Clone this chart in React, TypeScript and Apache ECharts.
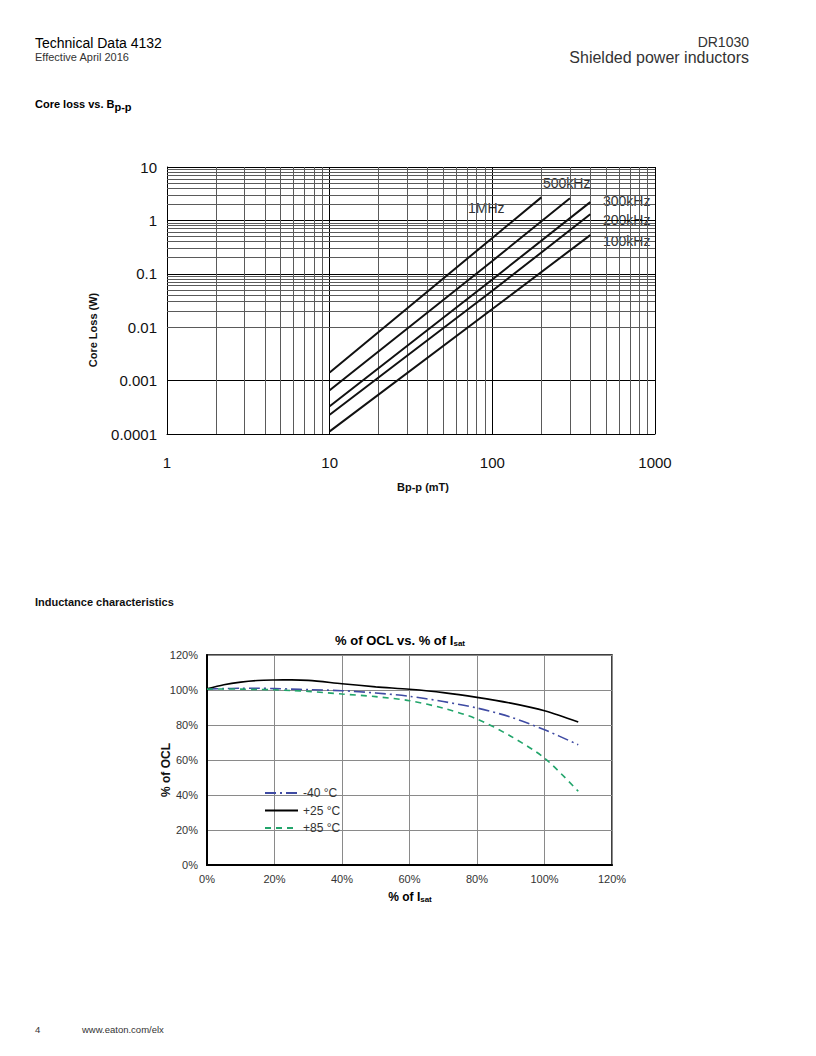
import React, { useEffect, useRef } from "react";
import * as echarts from "echarts";

// ---------- Core loss vs Bp-p data ----------
const coreLossSeriesNames = ["1MHz", "500kHz", "300kHz", "200kHz", "100kHz"];
const bpp1MHz = [10, 100, 200];
const loss1MHz = [0.00142, 0.47, 2.7];
const bpp500k = [10, 100, 300];
const loss500k = [0.00066, 0.174, 2.6];
const bpp300k = [10, 100, 400];
const loss300k = [0.00033, 0.0785, 2.2];
const bpp200k = [10, 100, 400];
const loss200k = [0.00023, 0.048, 1.3];
const bpp100k = [10, 100, 400];
const loss100k = [0.000112, 0.0219, 0.53];

const coreXTickLabels = ["1", "10", "100", "1000"];
const coreYTickLabels = ["0.0001", "0.001", "0.01", "0.1", "1", "10"];
const coreXDecades = [1, 10, 100];
const coreYDecades = [0.0001, 0.001, 0.01, 0.1, 1];
const minorMultipliers = [2, 3, 4, 5, 6, 7, 8, 9];

// ---------- Inductance characteristics data ----------
const isatPercent = [0, 5, 10, 15, 20, 25, 30, 40, 50, 60, 70, 80, 90, 100, 110];
const oclMinus40 = [100.5, 100.8, 101, 101, 100.8, 100.5, 100.2, 99.6, 98.3, 96.4, 93.4, 89.7, 84.5, 77.3, 68.7];
const ocl25 = [100.7, 103, 104.5, 105.4, 105.7, 105.8, 105.5, 103.6, 101.8, 100.4, 98.5, 95.8, 92.5, 88.2, 81.7];
const ocl85 = [100.5, 100.6, 100.5, 100.3, 100.1, 99.7, 99.2, 97.7, 96.2, 93.9, 89.6, 83.4, 73.6, 61.1, 42.1];
const tempNames = ["-40 °C", "+25 °C", "+85 °C"];
const pctTickLabels = ["0%", "20%", "40%", "60%", "80%", "100%", "120%"];

const FONT = "'Liberation Sans', Arial, Helvetica, sans-serif";

function pairs(xs: number[], ys: number[]) {
  return xs.map((x, i) => [x, ys[i]]);
}

function labelFor(v: number, labels: string[]) {
  const exact = labels.find((l) => Number(l) === v);
  return exact !== undefined ? exact : String(v);
}

export default function App() {
  const ref = useRef<HTMLDivElement>(null);

  useEffect(() => {
    if (!ref.current) return;
    const chart = echarts.init(ref.current, undefined, { renderer: "svg" });

    const minorX: any[] = [];
    coreXDecades.forEach((d) => minorMultipliers.forEach((k) => minorX.push({ xAxis: k * d })));
    const minorY: any[] = [];
    coreYDecades.forEach((d) =>
      minorMultipliers.forEach((k) => minorY.push({ yAxis: parseFloat((k * d).toPrecision(3)) }))
    );

    const coreData = [
      pairs(bpp1MHz, loss1MHz),
      pairs(bpp500k, loss500k),
      pairs(bpp300k, loss300k),
      pairs(bpp200k, loss200k),
      pairs(bpp100k, loss100k),
    ];

    const tempData = [oclMinus40, ocl25, ocl85].map((ys) => pairs(isatPercent, ys));

    const text = (x: number, y: number, t: string, font: string, fill = "#222", align = "left", extra: any = {}) => ({
      type: "text",
      x,
      y,
      silent: true,
      ...extra,
      style: { text: t, font, fill, align, verticalAlign: "middle" },
    });

    const option: any = {
      animation: false,
      backgroundColor: "#ffffff",
      textStyle: { fontFamily: FONT },
      grid: [
        { left: 167, top: 167, width: 488, height: 267, show: false },
        { left: 207, top: 655, width: 405, height: 210, show: true, borderColor: "#000", borderWidth: 1.5 },
      ],
      xAxis: [
        {
          type: "log",
          logBase: 10,
          gridIndex: 0,
          min: 1,
          max: 1000,
          axisLine: { show: true, lineStyle: { color: "#000", width: 1 } },
          axisTick: { show: false },
          axisLabel: {
            fontSize: 15,
            color: "#111",
            margin: 21,
            fontFamily: FONT,
            formatter: (v: number) => labelFor(v, coreXTickLabels),
          },
          splitLine: { show: true, lineStyle: { color: "#000", width: 1 } },
        },
        {
          type: "value",
          gridIndex: 1,
          min: 0,
          max: 120,
          interval: 20,
          axisLine: { show: true, lineStyle: { color: "#000", width: 2 } },
          axisTick: { show: false },
          axisLabel: {
            fontSize: 11,
            color: "#333",
            margin: 8,
            fontFamily: FONT,
            formatter: (v: number) => pctTickLabels[Math.round(v / 20)],
          },
          splitLine: { show: true, lineStyle: { color: "#8a8a8a", width: 1 } },
        },
      ],
      yAxis: [
        {
          type: "log",
          logBase: 10,
          gridIndex: 0,
          min: 0.0001,
          max: 10,
          axisLine: { show: true, lineStyle: { color: "#000", width: 1 } },
          axisTick: { show: false },
          axisLabel: {
            fontSize: 15,
            color: "#111",
            margin: 10,
            fontFamily: FONT,
            formatter: (v: number) => labelFor(v, coreYTickLabels),
          },
          splitLine: { show: true, lineStyle: { color: "#000", width: 1 } },
        },
        {
          type: "value",
          gridIndex: 1,
          min: 0,
          max: 120,
          interval: 20,
          axisLine: { show: true, lineStyle: { color: "#000", width: 2 } },
          axisTick: { show: false },
          axisLabel: {
            fontSize: 11,
            color: "#333",
            margin: 9,
            fontFamily: FONT,
            formatter: (v: number) => pctTickLabels[Math.round(v / 20)],
          },
          splitLine: { show: true, lineStyle: { color: "#8a8a8a", width: 1 } },
        },
      ],
      legend: {
        show: true,
        data: tempNames,
        orient: "vertical",
        left: 259,
        top: 782,
        itemWidth: 33,
        itemHeight: 12,
        itemGap: 5.5,
        itemStyle: { opacity: 0 },
        textStyle: { fontSize: 12, color: "#333", fontFamily: FONT },
      },
      series: [
        {
          name: "gridMinor",
          type: "line",
          xAxisIndex: 0,
          yAxisIndex: 0,
          data: [],
          silent: true,
          z: 1,
          markLine: {
            silent: true,
            symbol: ["none", "none"],
            label: { show: false },
            lineStyle: { color: "#5a5a5a", width: 1, type: "solid" },
            emphasis: { disabled: true },
            data: [...minorX, ...minorY],
          },
        },
        ...coreLossSeriesNames.map((name, i) => ({
          name,
          type: "line",
          xAxisIndex: 0,
          yAxisIndex: 0,
          data: coreData[i],
          symbol: "none",
          z: 5,
          lineStyle: { color: "#111", width: 2 },
        })),
        {
          name: tempNames[0],
          type: "line",
          xAxisIndex: 1,
          yAxisIndex: 1,
          data: tempData[0],
          symbol: "none",
          smooth: 0.3,
          itemStyle: { color: "#3f4ba3" },
          lineStyle: { color: "#3f4ba3", width: 1.6, type: [11, 4, 2, 4] },
        },
        {
          name: tempNames[1],
          type: "line",
          xAxisIndex: 1,
          yAxisIndex: 1,
          data: tempData[1],
          symbol: "none",
          smooth: 0.3,
          itemStyle: { color: "#000" },
          lineStyle: { color: "#000", width: 1.6, type: "solid" },
        },
        {
          name: tempNames[2],
          type: "line",
          xAxisIndex: 1,
          yAxisIndex: 1,
          data: tempData[2],
          symbol: "none",
          smooth: 0.3,
          itemStyle: { color: "#22a56b" },
          lineStyle: { color: "#22a56b", width: 1.6, type: [6, 5] },
        },
      ],
      graphic: [
        // header
        {
          type: "text",
          x: 35,
          y: 43,
          silent: true,
          style: {
            text: "{a|Technical Data }{b|4132}",
            verticalAlign: "middle",
            rich: {
              a: { fontSize: 14, color: "#555", fontFamily: FONT },
              b: { fontSize: 14, color: "#222", fontFamily: FONT },
            },
          },
        },
        text(35, 57, "Effective April 2016", `11px ${FONT}`, "#333"),
        text(749, 42, "DR1030", `14px ${FONT}`, "#333", "right"),
        text(749, 57, "Shielded power inductors", `16px ${FONT}`, "#333", "right"),
        {
          type: "text",
          x: 35,
          y: 104,
          silent: true,
          style: {
            text: "{a|Core loss vs. B}{b|p-p}",
            verticalAlign: "middle",
            rich: {
              a: { fontSize: 11, fontWeight: "bold", color: "#111", fontFamily: FONT },
              b: { fontSize: 11, fontWeight: "bold", color: "#111", fontFamily: FONT, padding: [5, 0, 0, 0] },
            },
          },
        },
        // core loss axis titles
        text(93, 330, "Core Loss (W)", `bold 11px ${FONT}`, "#111", "center", { rotation: Math.PI / 2 }),
        text(423, 487, "Bp-p (mT)", `bold 11px ${FONT}`, "#111", "center"),
        // frequency labels
        text(543, 183, "500kHz", `14px ${FONT}`, "#333"),
        text(468, 208, "1MHz", `14px ${FONT}`, "#333"),
        text(603, 201, "300kHz", `14px ${FONT}`, "#333"),
        text(603, 220, "200kHz", `14px ${FONT}`, "#333"),
        text(603, 241, "100kHz", `14px ${FONT}`, "#333"),
        // inductance section
        text(35, 602, "Inductance characteristics", `bold 11px ${FONT}`, "#111"),
        {
          type: "text",
          x: 400,
          y: 640,
          silent: true,
          style: {
            text: "{a|% of OCL vs. % of I}{b|sat}",
            align: "center",
            verticalAlign: "middle",
            rich: {
              a: { fontSize: 13, fontWeight: "bold", color: "#111", fontFamily: FONT },
              b: { fontSize: 8, fontWeight: "bold", color: "#111", fontFamily: FONT, padding: [6, 0, 0, 0] },
            },
          },
        },
        {
          type: "text",
          x: 410,
          y: 897,
          silent: true,
          style: {
            text: "{a|% of I}{b|sat}",
            align: "center",
            verticalAlign: "middle",
            rich: {
              a: { fontSize: 12, fontWeight: "bold", color: "#111", fontFamily: FONT },
              b: { fontSize: 8, fontWeight: "bold", color: "#111", fontFamily: FONT, padding: [5, 0, 0, 0] },
            },
          },
        },
        text(166, 770, "% of OCL", `bold 12px ${FONT}`, "#111", "center", { rotation: Math.PI / 2 }),
        // footer
        text(35, 1029, "4", `9.5px ${FONT}`, "#333"),
        text(82, 1029, "www.eaton.com/elx", `9.5px ${FONT}`, "#333"),
      ],
    };

    chart.setOption(option);
    return () => chart.dispose();
  }, []);

  return (
    <div
      ref={ref}
      style={{ position: "fixed", left: 0, top: 0, width: 816, height: 1056, background: "#fff" }}
    />
  );
}
